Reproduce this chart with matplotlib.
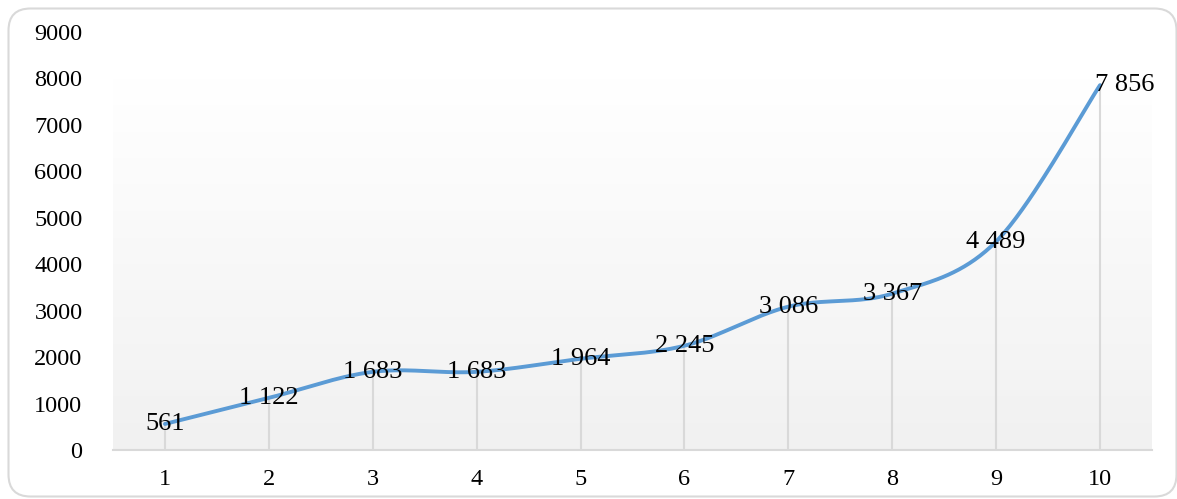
import numpy as np
import matplotlib
matplotlib.use("Agg")
import matplotlib.pyplot as plt
from matplotlib.patches import FancyBboxPatch

categories = [1, 2, 3, 4, 5, 6, 7, 8, 9, 10]
values = [561, 1122, 1683, 1683, 1964, 2245, 3086, 3367, 4489, 7856]
y_ticks = [0, 1000, 2000, 3000, 4000, 5000, 6000, 7000, 8000, 9000]

plt.rcParams['font.family'] = ['Liberation Serif', 'DejaVu Serif']

W, H = 1177, 499
fig = plt.figure(figsize=(W / 100, H / 100), dpi=100)

# rounded frame around the chart (inches)
frame = FancyBboxPatch((0.085, 0.025), 11.68, 4.88,
                       boxstyle="round,pad=0,rounding_size=0.22",
                       transform=fig.dpi_scale_trans, facecolor='none',
                       edgecolor='#d9d9d9', linewidth=1.5, zorder=-1)
fig.patches.append(frame)

ax = fig.add_axes([113 / W, (H - 450) / H, (1152 - 113) / W, (450 - 32) / H])
ax.set_facecolor('none')
ax.set_xlim(0.5, 10.5)
ax.set_ylim(0, 9000)

# gradient background of the plot area
grad = np.linspace(0, 1, 256).reshape(-1, 1)
cmap = matplotlib.colors.LinearSegmentedColormap.from_list('g', ['#f1f1f1', '#ffffff'])
ax.imshow(grad, extent=[0.5, 10.5, 0, 8000], origin='lower', aspect='auto',
          cmap=cmap, zorder=0)

# drop lines
ax.vlines(categories, 0, values, colors='#d9d9d9', linewidth=1.5, zorder=1)

# smoothed line (catmull-rom as cubic bezier)
x = np.array(categories, dtype=float)
y = np.array(values, dtype=float)
px = np.concatenate([[x[0]], x, [x[-1]]])
py = np.concatenate([[y[0]], y, [y[-1]]])
sx, sy = [], []
t = np.linspace(0, 1, 40)
for i in range(len(x) - 1):
    p0 = np.array([px[i + 1], py[i + 1]])
    p3 = np.array([px[i + 2], py[i + 2]])
    p1 = p0 + (np.array([px[i + 2], py[i + 2]]) - np.array([px[i], py[i]])) / 6
    p2 = p3 - (np.array([px[i + 3], py[i + 3]]) - np.array([px[i + 1], py[i + 1]])) / 6
    bx = (1 - t) ** 3 * p0[0] + 3 * (1 - t) ** 2 * t * p1[0] + 3 * (1 - t) * t ** 2 * p2[0] + t ** 3 * p3[0]
    by = (1 - t) ** 3 * p0[1] + 3 * (1 - t) ** 2 * t * p1[1] + 3 * (1 - t) * t ** 2 * p2[1] + t ** 3 * p3[1]
    sx.extend(bx)
    sy.extend(by)
ax.plot(sx, sy, color='#5b9bd5', linewidth=2.8, solid_capstyle='round', zorder=3)

# data labels
for i, (c, v) in enumerate(zip(categories, values)):
    lbl = f"{v:,}".replace(",", " ")
    dx = 18 if i == len(values) - 1 else 0
    ax.annotate(lbl, (c, v), xytext=(dx, 0), textcoords='offset points',
                ha='center', va='center', fontsize=19, color='black', zorder=4)

for s in ['top', 'right', 'left']:
    ax.spines[s].set_visible(False)
ax.spines['bottom'].set_color('#d9d9d9')
ax.spines['bottom'].set_linewidth(1.5)
ax.spines['bottom'].set_zorder(2)

ax.set_xticks(categories)
ax.set_yticks(y_ticks)
ax.tick_params(axis='both', length=0, labelsize=17.5, colors='black')
ax.tick_params(axis='y', pad=22)
ax.tick_params(axis='x', pad=14)

fig.savefig('out.png', dpi=100)
